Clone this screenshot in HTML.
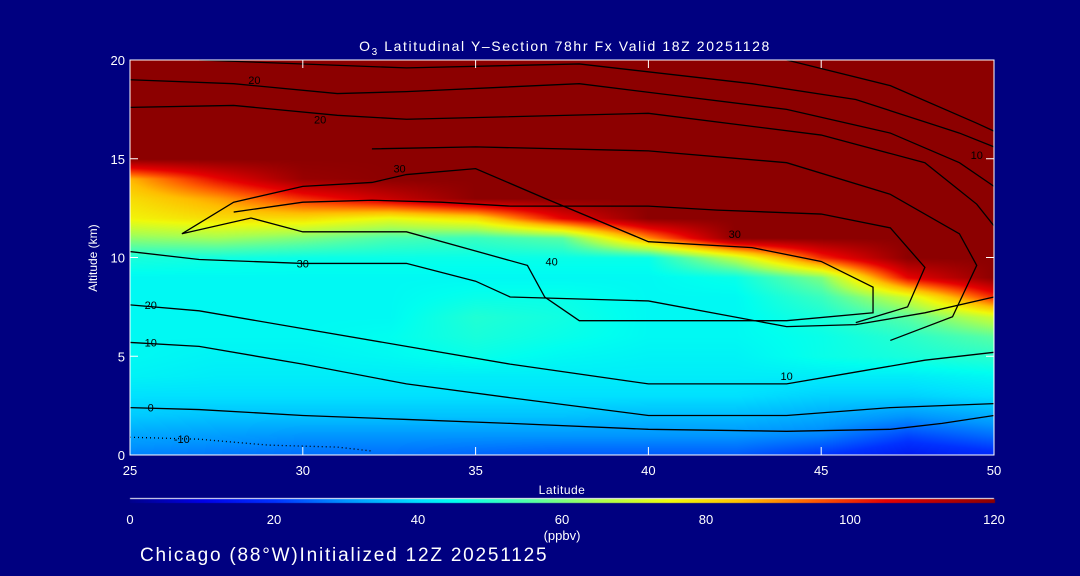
<!DOCTYPE html>
<html><head><meta charset="utf-8">
<style>
html,body{margin:0;padding:0;background:#000080;}
#wrap{position:relative;width:1080px;height:576px;background:#000080;overflow:hidden;font-family:"Liberation Sans",sans-serif;color:#fff;}
canvas{position:absolute;left:0;top:0;}
svg{position:absolute;left:0;top:0;}
</style></head>
<body>
<div id="wrap">
<canvas id="heat" width="1080" height="576"></canvas>
<svg id="ov" width="1080" height="576"></svg>
</div>
<script>
// ---- data ----
const lats = [25,27.5,30,32.5,35,37.5,40,42.5,45,47.5,50];
const alts = [0,1,2,3,4,5,6,7,8,9,10,11,12,13,14,15,16,17,18,19,20];
const ozone = [
[28,27,26,26,25,24,24,24,20,15,18],
[32,31,30,30,30,30,30,30,28,22,26],
[37,36,36,36,36,36,35,35,33,30,33],
[40,40,40,40,40,40,40,40,38,38,40],
[43,42,42,42,42,42,42,42,42,42,44],
[44,43,43,44,46,44,43,43,46,48,50],
[44,44,44,45,48,46,44,44,46,50,56],
[44,44,44,44,49,47,44,44,48,56,70],
[44,44,44,44,46,46,44,44,52,70,100],
[44,44,44,44,44,44,44,46,60,105,120],
[48,47,46,46,46,46,46,68,100,120,120],
[62,64,60,54,52,56,90,120,120,120,120],
[76,80,80,74,80,105,120,120,120,120,120],
[80,88,100,110,120,120,120,120,120,120,120],
[86,104,118,120,120,120,120,120,120,120,120],
[120,120,120,120,120,120,120,120,120,120,120],
[120,120,120,120,120,120,120,120,120,120,120],
[120,120,120,120,120,120,120,120,120,120,120],
[120,120,120,120,120,120,120,120,120,120,120],
[120,120,120,120,120,120,120,120,120,120,120],
[120,120,120,120,120,120,120,120,120,120,120]
];
const xTicks = [25,30,35,40,45,50];
const yTicks = [0,5,10,15,20];
const cbTicks = [0,20,40,60,80,100,120];
const contourLabels = ["-10","0","10","20","30","30","40","30","20","10","20","10"];
const contourLines = [
[[25,0.9],[27,0.8],[29,0.5],[31,0.4],[32,0.2]],
[[25,2.4],[27,2.3],[30,2.0],[33,1.8],[36,1.6],[40,1.3],[44,1.2],[47,1.3],[48.5,1.6],[50,2.0]],
[[25,5.7],[27,5.5],[30,4.6],[33,3.6],[36,2.9],[40,2.0],[44,2.0],[47,2.4],[50,2.6]],
[[25,7.6],[27,7.3],[30,6.4],[33,5.5],[36,4.6],[40,3.6],[44,3.6],[46,4.2],[48,4.8],[50,5.2]],
[[25,10.3],[27,9.9],[30,9.7],[33,9.7],[35,8.8],[36,8.0],[40,7.8],[44,6.5],[46,6.6],[48,7.2],[50,8.0]],
[[26.5,11.2],[28,12.8],[30,13.6],[32,13.8],[33,14.2],[35,14.5],[37,13.0],[40,10.8],[43,10.5],[45,9.8],[46.5,8.5],[46.5,7.2],[44,6.8],[40,6.8],[38,6.8],[37,8.0],[36.5,9.6],[33,11.3],[30,11.3],[28.5,12.0],[26.5,11.2]],
[[28,12.3],[30,12.8],[32,12.9],[34,12.8],[36,12.6],[40,12.6],[42,12.4],[45,12.2],[47,11.5],[48,9.5],[47.5,7.5],[46,6.7]],
[[32,15.5],[35,15.6],[40,15.4],[44,14.8],[47,13.2],[49,11.2],[49.5,9.6],[48.8,7.0],[47,5.8]],
[[25,17.6],[28,17.7],[31,17.2],[33,17.0],[40,17.3],[45,16.2],[48,14.8],[49.5,12.7],[50,11.6]],
[[27,20],[33,19.6],[38,19.8],[43,18.8],[46,18.0],[49,16.3],[50,15.6]],
[[25,19.0],[28,18.8],[31,18.3],[33,18.4],[38,18.8],[44,17.5],[47,16.3],[49,14.8],[50,13.6]],
[[44,20],[47,18.7],[49.5,16.8],[50,16.4]]
];
const labelPos = [[26.5,0.8],[25.6,2.4],[25.6,5.7],[25.6,7.6],[30,9.7],[32.8,14.5],[37.2,9.8],[42.5,11.2],[28.6,19.0],[49.5,15.2],[30.5,17.0],[44,4.0]];

const X0=130,X1=994,Y0=455,Y1=60;
const xs = v => X0+(v-25)/(50-25)*(X1-X0);
const ys = v => Y0-(v/20)*(Y0-Y1);
const stops=[[0,[0,0,140]],[10,[0,0,230]],[20,[0,50,255]],[30,[0,150,255]],[40,[0,225,255]],[45,[0,255,240]],[55,[80,255,170]],[65,[170,255,80]],[75,[240,250,10]],[85,[255,190,0]],[95,[255,90,0]],[105,[230,0,0]],[120,[140,0,0]]];
function cmap(v){v=Math.max(0,Math.min(120,v));for(let i=0;i<stops.length-1;i++){const a=stops[i],b=stops[i+1];if(v<=b[0]){const t=(v-a[0])/(b[0]-a[0]);return a[1].map((c,k)=>Math.round(c+(b[1][k]-c)*t));}}return stops[stops.length-1][1];}
function sample(lat,alt){
  let fi=(lat-25)/2.5, fj=alt;
  fi=Math.max(0,Math.min(lats.length-1.0001,fi)); fj=Math.max(0,Math.min(alts.length-1.0001,fj));
  const i=Math.floor(fi),j=Math.floor(fj),ti=fi-i,tj=fj-j;
  const a=ozone[j][i],b=ozone[j][i+1],c=ozone[j+1][i],d=ozone[j+1][i+1];
  return (a*(1-ti)+b*ti)*(1-tj)+(c*(1-ti)+d*ti)*tj;
}
const ctx=document.getElementById('heat').getContext('2d');
const img=ctx.createImageData(X1-X0,Y0-Y1);
for(let py=0;py<Y0-Y1;py++){for(let px=0;px<X1-X0;px++){
  const lat=25+px/(X1-X0)*25, alt=20-py/(Y0-Y1)*20;
  const c=cmap(sample(lat,alt)); const k=(py*(X1-X0)+px)*4;
  img.data[k]=c[0];img.data[k+1]=c[1];img.data[k+2]=c[2];img.data[k+3]=255;}}
ctx.putImageData(img,X0,Y1);
ctx.fillStyle='#fff';ctx.fillRect(X0,498,X1-X0,1);
for(let px=0;px<=X1-X0;px++){const c=cmap(px/(X1-X0)*120);ctx.fillStyle=`rgb(${c[0]},${c[1]},${c[2]})`;ctx.fillRect(X0+px,499,1,4);}

const NS='http://www.w3.org/2000/svg';
const svg=document.getElementById('ov');
function mk(tag,attrs,text){const e=document.createElementNS(NS,tag);for(const k in attrs)e.setAttribute(k,attrs[k]);if(text!==undefined)e.textContent=text;svg.appendChild(e);return e;}
contourLines.forEach((pts,i)=>{
  const p=mk('polyline',{points:pts.map(q=>xs(q[0])+','+ys(q[1])).join(' '),fill:'none',stroke:'#000','stroke-width':1.3,'stroke-dasharray':i===0?'1,3':'none'});
  
  
  const lp=labelPos[i];
  const t=mk('text',{x:xs(lp[0]),y:ys(lp[1])+4,'font-size':11,fill:'#000','text-anchor':'middle'},contourLabels[i]);
  
  
});
const fr=mk('rect',{x:X0,y:Y1,width:X1-X0,height:Y0-Y1,fill:'none',stroke:'#fff','stroke-width':1});


xTicks.forEach(v=>{
  mk('line',{x1:xs(v),x2:xs(v),y1:Y0,y2:Y0-8,stroke:'#fff'});
  mk('line',{x1:xs(v),x2:xs(v),y1:Y1,y2:Y1+8,stroke:'#fff'});
  const t=mk('text',{x:xs(v),y:475,'font-size':13,fill:'#fff','text-anchor':'middle'},String(v));
  
  
});
yTicks.forEach(v=>{
  mk('line',{x1:X0,x2:X0+8,y1:ys(v),y2:ys(v),stroke:'#fff'});
  mk('line',{x1:X1,x2:X1-8,y1:ys(v),y2:ys(v),stroke:'#fff'});
  const t=mk('text',{x:125,y:ys(v)+5,'font-size':13,fill:'#fff','text-anchor':'end'},String(v));
  
  
});
cbTicks.forEach(v=>{
  const t=mk('text',{x:X0+v/120*(X1-X0),y:524,'font-size':13,fill:'#fff','text-anchor':'middle'},String(v));
  
  
});
</script>
<svg width="1080" height="576" style="position:absolute;left:0;top:0">
<text x="565" y="51" font-size="14" letter-spacing="1.6" fill="#fff" text-anchor="middle" font-family="Liberation Sans">O<tspan font-size="10" dy="4">3</tspan><tspan dy="-4"> Latitudinal Y–Section 78hr  Fx Valid 18Z 20251128</tspan></text>
<text x="562" y="494" font-size="12" letter-spacing="0.5" fill="#fff" text-anchor="middle" font-family="Liberation Sans">Latitude</text>
<text x="97" y="258" font-size="12" fill="#fff" text-anchor="middle" font-family="Liberation Sans" transform="rotate(-90 97 258)">Altitude (km)</text>
<text x="562" y="540" font-size="13" fill="#fff" text-anchor="middle" font-family="Liberation Sans">(ppbv)</text>
<text x="140" y="561" font-size="19" letter-spacing="1.8" fill="#fff" font-family="Liberation Sans">Chicago (88°W)Initialized 12Z 20251125</text>
</svg>
</body></html>
